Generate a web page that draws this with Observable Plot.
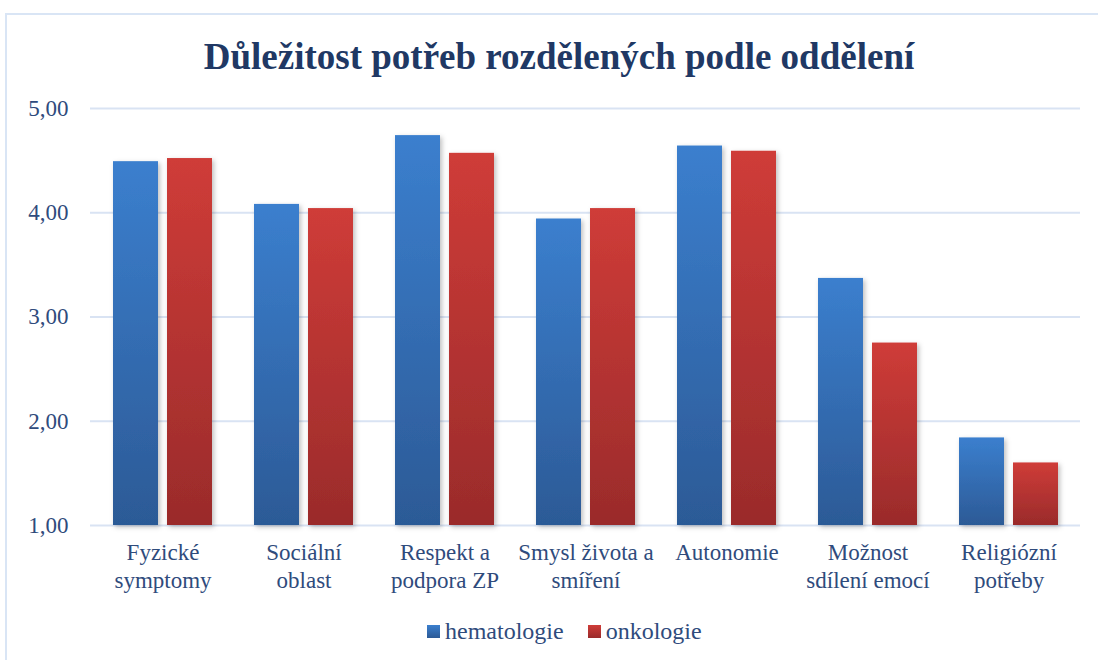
<!DOCTYPE html>
<html>
<head>
<meta charset="utf-8">
<script src="https://cdn.jsdelivr.net/npm/d3@7"></script>
<script src="https://cdn.jsdelivr.net/npm/@observablehq/plot@0.6"></script>
<style>
  html, body { margin: 0; padding: 0; width: 1098px; height: 660px; overflow: hidden; background: #fff; }
  #frame { position: absolute; left: 5px; top: 13px; width: 1200px; height: 700px; border: 2px solid #D9E5F5; box-sizing: border-box; }
  #title { position: absolute; left: 0; top: 35px; width: 1118px; text-align: center; font-family: "Liberation Serif", serif; font-weight: bold; font-size: 37px; color: #203864; }
  #chart { position: absolute; left: 0; top: 90px; }
  #legend { position: absolute; left: 427px; top: 618px; font-family: "Liberation Serif", serif; font-size: 24px; color: #2F4B7C; display: flex; align-items: center; }
  .sw { width: 13px; height: 13px; display: inline-block; margin-right: 5px; }
  .item { display: flex; align-items: center; margin-right: 24px; }
</style>
</head>
<body>
<div id="frame"></div>
<div id="title">Důležitost potřeb rozdělených podle oddělení</div>
<div id="chart"></div>
<div id="legend"></div>
<script>
const categories = ["Fyzické symptomy", "Sociální oblast", "Respekt a podpora ZP", "Smysl života a smíření", "Autonomie", "Možnost sdílení emocí", "Religiózní potřeby"];
const categoryLabels = ["Fyzické\nsymptomy", "Sociální\noblast", "Respekt a\npodpora ZP", "Smysl života a\nsmíření", "Autonomie", "Možnost\nsdílení emocí", "Religiózní\npotřeby"];
const seriesNames = ["hematologie", "onkologie"];
const hematologie = [4.49, 4.08, 4.74, 3.94, 4.64, 3.37, 1.84];
const onkologie = [4.52, 4.04, 4.57, 4.04, 4.59, 2.75, 1.60];
const yTicks = [1, 2, 3, 4, 5];

const hemaData = categories.map((c, i) => ({category: c, value: hematologie[i]}));
const onkoData = categories.map((c, i) => ({category: c, value: onkologie[i]}));

const chart = Plot.plot({
  width: 1098,
  height: 520,
  marginTop: 18,
  marginBottom: 85,
  marginLeft: 90,
  marginRight: 18,
  style: {fontFamily: "'Liberation Serif', serif", fontSize: "23px", color: "#2F4B7C", background: "transparent"},
  x: {domain: categories, paddingInner: 0.3, paddingOuter: 0.15, label: null},
  y: {domain: [1, 5], label: null},
  marks: [
    Plot.gridY(yTicks, {stroke: "#D9E3F3", strokeOpacity: 1, strokeWidth: 2}),
    Plot.axisY({ticks: yTicks, tickSize: 0, tickPadding: 22, label: null, fontSize: 23,
      tickFormat: d => d.toFixed(2).replace(".", ",")}),
    Plot.axisX({tickSize: 0, tickPadding: 15, label: null, lineHeight: 1.2, fontSize: 23,
      tickFormat: d => categoryLabels[categories.indexOf(d)]}),
    Plot.barY(hemaData, {x: "category", y1: 1, y2: "value", insetRight: 54, fill: "url(#gradH)"}),
    Plot.barY(onkoData, {x: "category", y1: 1, y2: "value", insetLeft: 54, fill: "url(#gradO)"})
  ]
});

const svg = d3.select(chart);
const defs = svg.insert("defs", ":first-child");
function grad(id, top, bottom) {
  const g = defs.append("linearGradient").attr("id", id).attr("x1", 0).attr("y1", 0).attr("x2", 0).attr("y2", 1);
  g.append("stop").attr("offset", "0%").attr("stop-color", top);
  g.append("stop").attr("offset", "100%").attr("stop-color", bottom);
}
grad("gradH", "#3B7FCE", "#2C5A96");
grad("gradO", "#CF3C38", "#9A2B2B");
const f = defs.append("filter").attr("id", "shadow").attr("x", "-20%").attr("y", "-10%").attr("width", "150%").attr("height", "130%");
f.append("feDropShadow").attr("dx", 2).attr("dy", 2).attr("stdDeviation", 2.5).attr("flood-color", "#000").attr("flood-opacity", 0.25);
svg.selectAll("g[aria-label='bar'] rect").attr("filter", "url(#shadow)");

document.getElementById("chart").appendChild(chart);

const legend = document.getElementById("legend");
const legendFills = ["linear-gradient(#3B7FCE, #2C5A96)", "linear-gradient(#CF3C38, #9A2B2B)"];
seriesNames.forEach((s, i) => {
  const item = document.createElement("span");
  item.className = "item";
  const sw = document.createElement("span");
  sw.className = "sw";
  sw.style.background = legendFills[i];
  item.appendChild(sw);
  item.appendChild(document.createTextNode(s));
  legend.appendChild(item);
});
</script>
</body>
</html>
